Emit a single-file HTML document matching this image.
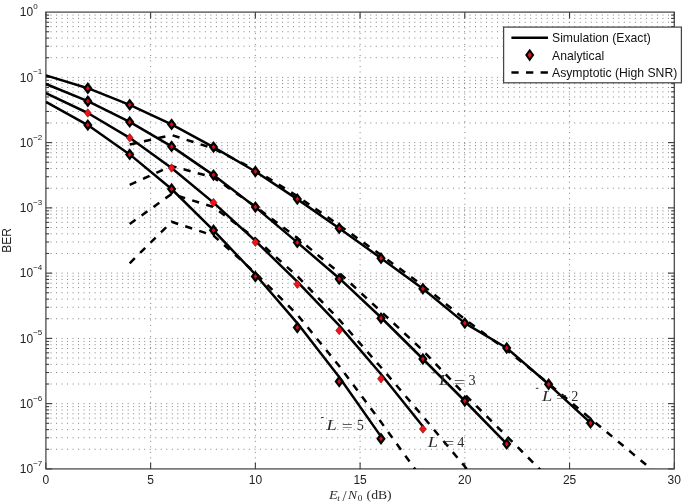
<!DOCTYPE html>
<html><head><meta charset="utf-8"><title>BER plot</title>
<style>html,body{margin:0;padding:0;background:#fff;}body{width:685px;height:504px;overflow:hidden;}svg{display:block;}</style>
</head><body>
<svg width="685" height="504" viewBox="0 0 685 504">
<rect x="0" y="0" width="685" height="504" fill="#fff"/>
<g stroke="#808080" stroke-width="1" fill="none" stroke-dasharray="1 4.513">
<line x1="150.63" y1="469.4" x2="150.63" y2="12.1"/>
<line x1="255.37" y1="469.4" x2="255.37" y2="12.1"/>
<line x1="360.10" y1="469.4" x2="360.10" y2="12.1"/>
<line x1="464.83" y1="469.4" x2="464.83" y2="12.1"/>
<line x1="569.57" y1="469.4" x2="569.57" y2="12.1"/>
</g>
<g stroke="#808080" stroke-width="1" fill="none" stroke-dasharray="1 4.513" stroke-dashoffset="0.9">
<line x1="45.9" y1="77.36" x2="674.3" y2="77.36"/>
<line x1="45.9" y1="57.71" x2="674.3" y2="57.71"/>
<line x1="45.9" y1="46.22" x2="674.3" y2="46.22"/>
<line x1="45.9" y1="38.07" x2="674.3" y2="38.07"/>
<line x1="45.9" y1="31.74" x2="674.3" y2="31.74"/>
<line x1="45.9" y1="26.58" x2="674.3" y2="26.58"/>
<line x1="45.9" y1="22.21" x2="674.3" y2="22.21"/>
<line x1="45.9" y1="18.42" x2="674.3" y2="18.42"/>
<line x1="45.9" y1="15.09" x2="674.3" y2="15.09"/>
<line x1="45.9" y1="142.61" x2="674.3" y2="142.61"/>
<line x1="45.9" y1="122.97" x2="674.3" y2="122.97"/>
<line x1="45.9" y1="111.48" x2="674.3" y2="111.48"/>
<line x1="45.9" y1="103.33" x2="674.3" y2="103.33"/>
<line x1="45.9" y1="97.00" x2="674.3" y2="97.00"/>
<line x1="45.9" y1="91.83" x2="674.3" y2="91.83"/>
<line x1="45.9" y1="87.47" x2="674.3" y2="87.47"/>
<line x1="45.9" y1="83.68" x2="674.3" y2="83.68"/>
<line x1="45.9" y1="80.34" x2="674.3" y2="80.34"/>
<line x1="45.9" y1="207.87" x2="674.3" y2="207.87"/>
<line x1="45.9" y1="188.23" x2="674.3" y2="188.23"/>
<line x1="45.9" y1="176.74" x2="674.3" y2="176.74"/>
<line x1="45.9" y1="168.58" x2="674.3" y2="168.58"/>
<line x1="45.9" y1="162.26" x2="674.3" y2="162.26"/>
<line x1="45.9" y1="157.09" x2="674.3" y2="157.09"/>
<line x1="45.9" y1="152.72" x2="674.3" y2="152.72"/>
<line x1="45.9" y1="148.94" x2="674.3" y2="148.94"/>
<line x1="45.9" y1="145.60" x2="674.3" y2="145.60"/>
<line x1="45.9" y1="273.13" x2="674.3" y2="273.13"/>
<line x1="45.9" y1="253.48" x2="674.3" y2="253.48"/>
<line x1="45.9" y1="241.99" x2="674.3" y2="241.99"/>
<line x1="45.9" y1="233.84" x2="674.3" y2="233.84"/>
<line x1="45.9" y1="227.52" x2="674.3" y2="227.52"/>
<line x1="45.9" y1="222.35" x2="674.3" y2="222.35"/>
<line x1="45.9" y1="217.98" x2="674.3" y2="217.98"/>
<line x1="45.9" y1="214.20" x2="674.3" y2="214.20"/>
<line x1="45.9" y1="210.86" x2="674.3" y2="210.86"/>
<line x1="45.9" y1="338.39" x2="674.3" y2="338.39"/>
<line x1="45.9" y1="318.74" x2="674.3" y2="318.74"/>
<line x1="45.9" y1="307.25" x2="674.3" y2="307.25"/>
<line x1="45.9" y1="299.10" x2="674.3" y2="299.10"/>
<line x1="45.9" y1="292.77" x2="674.3" y2="292.77"/>
<line x1="45.9" y1="287.61" x2="674.3" y2="287.61"/>
<line x1="45.9" y1="283.24" x2="674.3" y2="283.24"/>
<line x1="45.9" y1="279.45" x2="674.3" y2="279.45"/>
<line x1="45.9" y1="276.11" x2="674.3" y2="276.11"/>
<line x1="45.9" y1="403.64" x2="674.3" y2="403.64"/>
<line x1="45.9" y1="384.00" x2="674.3" y2="384.00"/>
<line x1="45.9" y1="372.51" x2="674.3" y2="372.51"/>
<line x1="45.9" y1="364.35" x2="674.3" y2="364.35"/>
<line x1="45.9" y1="358.03" x2="674.3" y2="358.03"/>
<line x1="45.9" y1="352.86" x2="674.3" y2="352.86"/>
<line x1="45.9" y1="348.49" x2="674.3" y2="348.49"/>
<line x1="45.9" y1="344.71" x2="674.3" y2="344.71"/>
<line x1="45.9" y1="341.37" x2="674.3" y2="341.37"/>
<line x1="45.9" y1="449.26" x2="674.3" y2="449.26"/>
<line x1="45.9" y1="437.76" x2="674.3" y2="437.76"/>
<line x1="45.9" y1="429.61" x2="674.3" y2="429.61"/>
<line x1="45.9" y1="423.29" x2="674.3" y2="423.29"/>
<line x1="45.9" y1="418.12" x2="674.3" y2="418.12"/>
<line x1="45.9" y1="413.75" x2="674.3" y2="413.75"/>
<line x1="45.9" y1="409.97" x2="674.3" y2="409.97"/>
<line x1="45.9" y1="406.63" x2="674.3" y2="406.63"/>
</g>
<g stroke="#3a3a3a" stroke-width="1.1" fill="none">
<line x1="45.90" y1="468.9" x2="45.90" y2="462.6"/>
<line x1="45.90" y1="12.1" x2="45.90" y2="18.4"/>
<line x1="150.63" y1="468.9" x2="150.63" y2="462.6"/>
<line x1="150.63" y1="12.1" x2="150.63" y2="18.4"/>
<line x1="255.37" y1="468.9" x2="255.37" y2="462.6"/>
<line x1="255.37" y1="12.1" x2="255.37" y2="18.4"/>
<line x1="360.10" y1="468.9" x2="360.10" y2="462.6"/>
<line x1="360.10" y1="12.1" x2="360.10" y2="18.4"/>
<line x1="464.83" y1="468.9" x2="464.83" y2="462.6"/>
<line x1="464.83" y1="12.1" x2="464.83" y2="18.4"/>
<line x1="569.57" y1="468.9" x2="569.57" y2="462.6"/>
<line x1="569.57" y1="12.1" x2="569.57" y2="18.4"/>
<line x1="674.30" y1="468.9" x2="674.30" y2="462.6"/>
<line x1="674.30" y1="12.1" x2="674.30" y2="18.4"/>
<line x1="45.9" y1="77.36" x2="52.2" y2="77.36"/>
<line x1="674.3" y1="77.36" x2="668.0" y2="77.36"/>
<line x1="45.9" y1="57.71" x2="49.1" y2="57.71"/>
<line x1="674.3" y1="57.71" x2="671.1" y2="57.71"/>
<line x1="45.9" y1="46.22" x2="49.1" y2="46.22"/>
<line x1="674.3" y1="46.22" x2="671.1" y2="46.22"/>
<line x1="45.9" y1="38.07" x2="49.1" y2="38.07"/>
<line x1="674.3" y1="38.07" x2="671.1" y2="38.07"/>
<line x1="45.9" y1="31.74" x2="49.1" y2="31.74"/>
<line x1="674.3" y1="31.74" x2="671.1" y2="31.74"/>
<line x1="45.9" y1="26.58" x2="49.1" y2="26.58"/>
<line x1="674.3" y1="26.58" x2="671.1" y2="26.58"/>
<line x1="45.9" y1="22.21" x2="49.1" y2="22.21"/>
<line x1="674.3" y1="22.21" x2="671.1" y2="22.21"/>
<line x1="45.9" y1="18.42" x2="49.1" y2="18.42"/>
<line x1="674.3" y1="18.42" x2="671.1" y2="18.42"/>
<line x1="45.9" y1="15.09" x2="49.1" y2="15.09"/>
<line x1="674.3" y1="15.09" x2="671.1" y2="15.09"/>
<line x1="45.9" y1="142.61" x2="52.2" y2="142.61"/>
<line x1="674.3" y1="142.61" x2="668.0" y2="142.61"/>
<line x1="45.9" y1="122.97" x2="49.1" y2="122.97"/>
<line x1="674.3" y1="122.97" x2="671.1" y2="122.97"/>
<line x1="45.9" y1="111.48" x2="49.1" y2="111.48"/>
<line x1="674.3" y1="111.48" x2="671.1" y2="111.48"/>
<line x1="45.9" y1="103.33" x2="49.1" y2="103.33"/>
<line x1="674.3" y1="103.33" x2="671.1" y2="103.33"/>
<line x1="45.9" y1="97.00" x2="49.1" y2="97.00"/>
<line x1="674.3" y1="97.00" x2="671.1" y2="97.00"/>
<line x1="45.9" y1="91.83" x2="49.1" y2="91.83"/>
<line x1="674.3" y1="91.83" x2="671.1" y2="91.83"/>
<line x1="45.9" y1="87.47" x2="49.1" y2="87.47"/>
<line x1="674.3" y1="87.47" x2="671.1" y2="87.47"/>
<line x1="45.9" y1="83.68" x2="49.1" y2="83.68"/>
<line x1="674.3" y1="83.68" x2="671.1" y2="83.68"/>
<line x1="45.9" y1="80.34" x2="49.1" y2="80.34"/>
<line x1="674.3" y1="80.34" x2="671.1" y2="80.34"/>
<line x1="45.9" y1="207.87" x2="52.2" y2="207.87"/>
<line x1="674.3" y1="207.87" x2="668.0" y2="207.87"/>
<line x1="45.9" y1="188.23" x2="49.1" y2="188.23"/>
<line x1="674.3" y1="188.23" x2="671.1" y2="188.23"/>
<line x1="45.9" y1="176.74" x2="49.1" y2="176.74"/>
<line x1="674.3" y1="176.74" x2="671.1" y2="176.74"/>
<line x1="45.9" y1="168.58" x2="49.1" y2="168.58"/>
<line x1="674.3" y1="168.58" x2="671.1" y2="168.58"/>
<line x1="45.9" y1="162.26" x2="49.1" y2="162.26"/>
<line x1="674.3" y1="162.26" x2="671.1" y2="162.26"/>
<line x1="45.9" y1="157.09" x2="49.1" y2="157.09"/>
<line x1="674.3" y1="157.09" x2="671.1" y2="157.09"/>
<line x1="45.9" y1="152.72" x2="49.1" y2="152.72"/>
<line x1="674.3" y1="152.72" x2="671.1" y2="152.72"/>
<line x1="45.9" y1="148.94" x2="49.1" y2="148.94"/>
<line x1="674.3" y1="148.94" x2="671.1" y2="148.94"/>
<line x1="45.9" y1="145.60" x2="49.1" y2="145.60"/>
<line x1="674.3" y1="145.60" x2="671.1" y2="145.60"/>
<line x1="45.9" y1="273.13" x2="52.2" y2="273.13"/>
<line x1="674.3" y1="273.13" x2="668.0" y2="273.13"/>
<line x1="45.9" y1="253.48" x2="49.1" y2="253.48"/>
<line x1="674.3" y1="253.48" x2="671.1" y2="253.48"/>
<line x1="45.9" y1="241.99" x2="49.1" y2="241.99"/>
<line x1="674.3" y1="241.99" x2="671.1" y2="241.99"/>
<line x1="45.9" y1="233.84" x2="49.1" y2="233.84"/>
<line x1="674.3" y1="233.84" x2="671.1" y2="233.84"/>
<line x1="45.9" y1="227.52" x2="49.1" y2="227.52"/>
<line x1="674.3" y1="227.52" x2="671.1" y2="227.52"/>
<line x1="45.9" y1="222.35" x2="49.1" y2="222.35"/>
<line x1="674.3" y1="222.35" x2="671.1" y2="222.35"/>
<line x1="45.9" y1="217.98" x2="49.1" y2="217.98"/>
<line x1="674.3" y1="217.98" x2="671.1" y2="217.98"/>
<line x1="45.9" y1="214.20" x2="49.1" y2="214.20"/>
<line x1="674.3" y1="214.20" x2="671.1" y2="214.20"/>
<line x1="45.9" y1="210.86" x2="49.1" y2="210.86"/>
<line x1="674.3" y1="210.86" x2="671.1" y2="210.86"/>
<line x1="45.9" y1="338.39" x2="52.2" y2="338.39"/>
<line x1="674.3" y1="338.39" x2="668.0" y2="338.39"/>
<line x1="45.9" y1="318.74" x2="49.1" y2="318.74"/>
<line x1="674.3" y1="318.74" x2="671.1" y2="318.74"/>
<line x1="45.9" y1="307.25" x2="49.1" y2="307.25"/>
<line x1="674.3" y1="307.25" x2="671.1" y2="307.25"/>
<line x1="45.9" y1="299.10" x2="49.1" y2="299.10"/>
<line x1="674.3" y1="299.10" x2="671.1" y2="299.10"/>
<line x1="45.9" y1="292.77" x2="49.1" y2="292.77"/>
<line x1="674.3" y1="292.77" x2="671.1" y2="292.77"/>
<line x1="45.9" y1="287.61" x2="49.1" y2="287.61"/>
<line x1="674.3" y1="287.61" x2="671.1" y2="287.61"/>
<line x1="45.9" y1="283.24" x2="49.1" y2="283.24"/>
<line x1="674.3" y1="283.24" x2="671.1" y2="283.24"/>
<line x1="45.9" y1="279.45" x2="49.1" y2="279.45"/>
<line x1="674.3" y1="279.45" x2="671.1" y2="279.45"/>
<line x1="45.9" y1="276.11" x2="49.1" y2="276.11"/>
<line x1="674.3" y1="276.11" x2="671.1" y2="276.11"/>
<line x1="45.9" y1="403.64" x2="52.2" y2="403.64"/>
<line x1="674.3" y1="403.64" x2="668.0" y2="403.64"/>
<line x1="45.9" y1="384.00" x2="49.1" y2="384.00"/>
<line x1="674.3" y1="384.00" x2="671.1" y2="384.00"/>
<line x1="45.9" y1="372.51" x2="49.1" y2="372.51"/>
<line x1="674.3" y1="372.51" x2="671.1" y2="372.51"/>
<line x1="45.9" y1="364.35" x2="49.1" y2="364.35"/>
<line x1="674.3" y1="364.35" x2="671.1" y2="364.35"/>
<line x1="45.9" y1="358.03" x2="49.1" y2="358.03"/>
<line x1="674.3" y1="358.03" x2="671.1" y2="358.03"/>
<line x1="45.9" y1="352.86" x2="49.1" y2="352.86"/>
<line x1="674.3" y1="352.86" x2="671.1" y2="352.86"/>
<line x1="45.9" y1="348.49" x2="49.1" y2="348.49"/>
<line x1="674.3" y1="348.49" x2="671.1" y2="348.49"/>
<line x1="45.9" y1="344.71" x2="49.1" y2="344.71"/>
<line x1="674.3" y1="344.71" x2="671.1" y2="344.71"/>
<line x1="45.9" y1="341.37" x2="49.1" y2="341.37"/>
<line x1="674.3" y1="341.37" x2="671.1" y2="341.37"/>
<line x1="45.9" y1="468.90" x2="52.2" y2="468.90"/>
<line x1="674.3" y1="468.90" x2="668.0" y2="468.90"/>
<line x1="45.9" y1="449.26" x2="49.1" y2="449.26"/>
<line x1="674.3" y1="449.26" x2="671.1" y2="449.26"/>
<line x1="45.9" y1="437.76" x2="49.1" y2="437.76"/>
<line x1="674.3" y1="437.76" x2="671.1" y2="437.76"/>
<line x1="45.9" y1="429.61" x2="49.1" y2="429.61"/>
<line x1="674.3" y1="429.61" x2="671.1" y2="429.61"/>
<line x1="45.9" y1="423.29" x2="49.1" y2="423.29"/>
<line x1="674.3" y1="423.29" x2="671.1" y2="423.29"/>
<line x1="45.9" y1="418.12" x2="49.1" y2="418.12"/>
<line x1="674.3" y1="418.12" x2="671.1" y2="418.12"/>
<line x1="45.9" y1="413.75" x2="49.1" y2="413.75"/>
<line x1="674.3" y1="413.75" x2="671.1" y2="413.75"/>
<line x1="45.9" y1="409.97" x2="49.1" y2="409.97"/>
<line x1="674.3" y1="409.97" x2="671.1" y2="409.97"/>
<line x1="45.9" y1="406.63" x2="49.1" y2="406.63"/>
<line x1="674.3" y1="406.63" x2="671.1" y2="406.63"/>
</g>
<rect x="45.9" y="12.1" width="628.4" height="456.8" fill="none" stroke="#454545" stroke-width="1.25"/>
<g font-family="'Liberation Sans', Arial, Helvetica, sans-serif" fill="#222">
<text x="45.9" y="483.6" font-size="12" text-anchor="middle">0</text>
<text x="150.6" y="483.6" font-size="12" text-anchor="middle">5</text>
<text x="255.4" y="483.6" font-size="12" text-anchor="middle">10</text>
<text x="360.1" y="483.6" font-size="12" text-anchor="middle">15</text>
<text x="464.8" y="483.6" font-size="12" text-anchor="middle">20</text>
<text x="569.6" y="483.6" font-size="12" text-anchor="middle">25</text>
<text x="674.3" y="483.6" font-size="12" text-anchor="middle">30</text>
<text x="33.2" y="16.4" font-size="12" text-anchor="end">10</text>
<text x="33.2" y="9.0" font-size="8">0</text>
<text x="33.2" y="81.7" font-size="12" text-anchor="end">10</text>
<text x="33.2" y="74.3" font-size="8">−1</text>
<text x="33.2" y="146.9" font-size="12" text-anchor="end">10</text>
<text x="33.2" y="139.5" font-size="8">−2</text>
<text x="33.2" y="212.2" font-size="12" text-anchor="end">10</text>
<text x="33.2" y="204.8" font-size="8">−3</text>
<text x="33.2" y="277.4" font-size="12" text-anchor="end">10</text>
<text x="33.2" y="270.0" font-size="8">−4</text>
<text x="33.2" y="342.7" font-size="12" text-anchor="end">10</text>
<text x="33.2" y="335.3" font-size="8">−5</text>
<text x="33.2" y="407.9" font-size="12" text-anchor="end">10</text>
<text x="33.2" y="400.5" font-size="8">−6</text>
<text x="33.2" y="473.2" font-size="12" text-anchor="end">10</text>
<text x="33.2" y="465.8" font-size="8">−7</text>
</g>
<text transform="translate(10.9,240.3) rotate(-90)" font-family="'Liberation Sans', Arial, Helvetica, sans-serif" font-size="12" text-anchor="middle" fill="#222">BER</text>
<g font-family="'Liberation Serif', 'Times New Roman', serif" fill="#2a2a2a">
<text transform="translate(329.00,499.10) scale(1.22,1)" font-size="11.8" font-style="italic">E</text>
<text transform="translate(337.20,501.00) scale(1.1,1)" font-size="8.4" font-style="italic">t</text>
<text transform="translate(342.6,501.10) scale(1.25,1.22)" font-size="11.8">/</text>
<text transform="translate(348.10,499.10) scale(1.15,1)" font-size="11.8" font-style="italic">N</text>
<text transform="translate(357.80,500.70) scale(1.1,1)" font-size="8.4">0</text>
<text transform="translate(366.60,499.10) scale(1.16,1)" font-size="11.8">(dB)</text>
</g>
<defs><clipPath id="ax"><rect x="45.9" y="12.1" width="628.4" height="456.8"/></clipPath></defs>
<g clip-path="url(#ax)" fill="none" stroke="#000" stroke-linejoin="round">
<polyline points="45.90,75.40 87.79,88.20 129.69,104.80 171.58,124.40 213.47,147.10 255.37,171.50 297.26,199.10 339.15,228.20 381.05,258.20 422.94,288.70 464.83,323.10 506.73,348.00 548.62,384.30 590.51,422.90" stroke-width="2.5"/>
<polyline points="45.90,84.00 87.79,101.20 129.69,121.90 171.58,146.40 213.47,175.10 255.37,207.10 297.26,242.40 339.15,278.20 381.05,317.50 422.94,359.00 464.83,401.00 506.73,443.90" stroke-width="2.5"/>
<polyline points="45.90,93.20 87.79,113.00 129.69,137.80 171.58,168.00 213.47,202.60 255.37,240.80 297.26,281.70 339.15,325.40 381.05,374.30 422.94,426.50" stroke-width="2.5"/>
<polyline points="45.90,101.80 87.79,125.10 129.69,154.40 171.58,189.00 213.47,230.30 255.37,274.50 297.26,323.10 339.15,377.00 381.05,436.60" stroke-width="2.5"/>
<polyline points="129.7,144.5 171.6,135.0 213.5,148.5 255.4,170.0 297.3,196.2 339.2,225.2 381.0,255.0 422.9,285.5 464.8,319.2 506.7,350.0 548.6,383.5 590.5,418.6 632.4,453.4 674.3,488.2" stroke-width="2.5" stroke-dasharray="7.2 7.486" stroke-linejoin="miter"/>
<polyline points="129.7,184.9 171.6,166.0 213.5,177.5 255.4,206.5 297.3,238.0 339.2,272.8 381.0,311.5 422.9,350.5 464.8,394.5 506.7,436.2 548.6,478.0" stroke-width="2.5" stroke-dasharray="7.2 7.414" stroke-linejoin="miter"/>
<polyline points="129.7,224.0 171.6,193.9 213.5,207.0 255.4,238.5 297.3,276.2 339.2,319.6 381.0,367.3 422.9,416.4 464.8,466.5 506.7,517.0" stroke-width="2.5" stroke-dasharray="7.2 7.440" stroke-linejoin="miter"/>
<polyline points="129.7,263.3 171.6,221.8 213.5,235.5 255.4,273.0 297.3,314.6 339.2,366.0 381.0,422.1 422.9,480.0" stroke-width="2.5" stroke-dasharray="7.2 7.470" stroke-linejoin="miter"/>
</g>
<g>
<path d="M87.8,82.0 L92.5,88.2 L87.8,94.4 L83.1,88.2 Z" fill="#000"/>
<path d="M87.8,85.7 L89.7,88.2 L87.8,90.7 L85.9,88.2 Z" fill="#d41018"/>
<path d="M129.7,98.6 L134.4,104.8 L129.7,111.0 L125.0,104.8 Z" fill="#000"/>
<path d="M129.7,102.3 L131.6,104.8 L129.7,107.3 L127.8,104.8 Z" fill="#d41018"/>
<path d="M171.6,118.2 L176.3,124.4 L171.6,130.6 L166.9,124.4 Z" fill="#000"/>
<path d="M171.6,121.9 L173.5,124.4 L171.6,126.9 L169.7,124.4 Z" fill="#d41018"/>
<path d="M213.5,140.9 L218.2,147.1 L213.5,153.3 L208.8,147.1 Z" fill="#000"/>
<path d="M213.5,144.6 L215.4,147.1 L213.5,149.6 L211.6,147.1 Z" fill="#d41018"/>
<path d="M255.4,165.3 L260.1,171.5 L255.4,177.7 L250.7,171.5 Z" fill="#000"/>
<path d="M255.4,169.0 L257.3,171.5 L255.4,174.0 L253.5,171.5 Z" fill="#d41018"/>
<path d="M297.3,192.9 L302.0,199.1 L297.3,205.3 L292.6,199.1 Z" fill="#000"/>
<path d="M297.3,196.6 L299.2,199.1 L297.3,201.6 L295.4,199.1 Z" fill="#d41018"/>
<path d="M339.2,222.0 L343.9,228.2 L339.2,234.4 L334.5,228.2 Z" fill="#000"/>
<path d="M339.2,225.7 L341.1,228.2 L339.2,230.7 L337.3,228.2 Z" fill="#d41018"/>
<path d="M381.0,252.0 L385.7,258.2 L381.0,264.4 L376.3,258.2 Z" fill="#000"/>
<path d="M381.0,255.7 L382.9,258.2 L381.0,260.7 L379.1,258.2 Z" fill="#d41018"/>
<path d="M422.9,282.5 L427.6,288.7 L422.9,294.9 L418.2,288.7 Z" fill="#000"/>
<path d="M422.9,286.2 L424.8,288.7 L422.9,291.2 L421.0,288.7 Z" fill="#d41018"/>
<path d="M464.8,316.9 L469.5,323.1 L464.8,329.3 L460.1,323.1 Z" fill="#000"/>
<path d="M464.8,320.6 L466.7,323.1 L464.8,325.6 L462.9,323.1 Z" fill="#d41018"/>
<path d="M506.7,341.8 L511.4,348.0 L506.7,354.2 L502.0,348.0 Z" fill="#000"/>
<path d="M506.7,345.5 L508.6,348.0 L506.7,350.5 L504.8,348.0 Z" fill="#d41018"/>
<path d="M548.6,378.1 L553.3,384.3 L548.6,390.5 L543.9,384.3 Z" fill="#000"/>
<path d="M548.6,381.8 L550.5,384.3 L548.6,386.8 L546.7,384.3 Z" fill="#d41018"/>
<path d="M590.5,416.7 L595.2,422.9 L590.5,429.1 L585.8,422.9 Z" fill="#000"/>
<path d="M590.5,420.4 L592.4,422.9 L590.5,425.4 L588.6,422.9 Z" fill="#d41018"/>
<path d="M87.8,95.0 L92.5,101.2 L87.8,107.4 L83.1,101.2 Z" fill="#000"/>
<path d="M87.8,98.7 L89.7,101.2 L87.8,103.7 L85.9,101.2 Z" fill="#d41018"/>
<path d="M129.7,115.7 L134.4,121.9 L129.7,128.1 L125.0,121.9 Z" fill="#000"/>
<path d="M129.7,119.4 L131.6,121.9 L129.7,124.4 L127.8,121.9 Z" fill="#d41018"/>
<path d="M171.6,140.2 L176.3,146.4 L171.6,152.6 L166.9,146.4 Z" fill="#000"/>
<path d="M171.6,143.9 L173.5,146.4 L171.6,148.9 L169.7,146.4 Z" fill="#d41018"/>
<path d="M213.5,168.9 L218.2,175.1 L213.5,181.3 L208.8,175.1 Z" fill="#000"/>
<path d="M213.5,172.6 L215.4,175.1 L213.5,177.6 L211.6,175.1 Z" fill="#d41018"/>
<path d="M255.4,200.9 L260.1,207.1 L255.4,213.3 L250.7,207.1 Z" fill="#000"/>
<path d="M255.4,204.6 L257.3,207.1 L255.4,209.6 L253.5,207.1 Z" fill="#d41018"/>
<path d="M297.3,236.2 L302.0,242.4 L297.3,248.6 L292.6,242.4 Z" fill="#000"/>
<path d="M297.3,239.9 L299.2,242.4 L297.3,244.9 L295.4,242.4 Z" fill="#d41018"/>
<path d="M339.2,272.8 L343.9,279.0 L339.2,285.2 L334.5,279.0 Z" fill="#000"/>
<path d="M339.2,276.5 L341.1,279.0 L339.2,281.5 L337.3,279.0 Z" fill="#d41018"/>
<path d="M381.0,312.1 L385.7,318.3 L381.0,324.5 L376.3,318.3 Z" fill="#000"/>
<path d="M381.0,315.8 L382.9,318.3 L381.0,320.8 L379.1,318.3 Z" fill="#d41018"/>
<path d="M422.9,352.8 L427.6,359.0 L422.9,365.2 L418.2,359.0 Z" fill="#000"/>
<path d="M422.9,356.5 L424.8,359.0 L422.9,361.5 L421.0,359.0 Z" fill="#d41018"/>
<path d="M464.8,394.8 L469.5,401.0 L464.8,407.2 L460.1,401.0 Z" fill="#000"/>
<path d="M464.8,398.5 L466.7,401.0 L464.8,403.5 L462.9,401.0 Z" fill="#d41018"/>
<path d="M506.7,437.7 L511.4,443.9 L506.7,450.1 L502.0,443.9 Z" fill="#000"/>
<path d="M506.7,441.4 L508.6,443.9 L506.7,446.4 L504.8,443.9 Z" fill="#d41018"/>
<path d="M87.8,108.7 L91.3,113.0 L87.8,117.3 L84.3,113.0 Z" fill="#ee1219" stroke="#500" stroke-width="0.5"/>
<path d="M129.7,133.5 L133.2,137.8 L129.7,142.1 L126.2,137.8 Z" fill="#ee1219" stroke="#500" stroke-width="0.5"/>
<path d="M171.6,163.7 L175.1,168.0 L171.6,172.3 L168.1,168.0 Z" fill="#ee1219" stroke="#500" stroke-width="0.5"/>
<path d="M213.5,198.3 L217.0,202.6 L213.5,206.9 L210.0,202.6 Z" fill="#ee1219" stroke="#500" stroke-width="0.5"/>
<path d="M255.4,237.9 L258.9,242.2 L255.4,246.5 L251.9,242.2 Z" fill="#ee1219" stroke="#500" stroke-width="0.5"/>
<path d="M297.3,279.9 L300.8,284.2 L297.3,288.5 L293.8,284.2 Z" fill="#ee1219" stroke="#500" stroke-width="0.5"/>
<path d="M339.2,326.2 L342.7,330.5 L339.2,334.8 L335.7,330.5 Z" fill="#ee1219" stroke="#500" stroke-width="0.5"/>
<path d="M381.0,374.4 L384.5,378.7 L381.0,383.0 L377.5,378.7 Z" fill="#ee1219" stroke="#500" stroke-width="0.5"/>
<path d="M422.9,424.7 L426.4,429.0 L422.9,433.3 L419.4,429.0 Z" fill="#ee1219" stroke="#500" stroke-width="0.5"/>
<path d="M87.8,118.9 L92.5,125.1 L87.8,131.3 L83.1,125.1 Z" fill="#000"/>
<path d="M87.8,122.6 L89.7,125.1 L87.8,127.6 L85.9,125.1 Z" fill="#d41018"/>
<path d="M129.7,148.2 L134.4,154.4 L129.7,160.6 L125.0,154.4 Z" fill="#000"/>
<path d="M129.7,151.9 L131.6,154.4 L129.7,156.9 L127.8,154.4 Z" fill="#d41018"/>
<path d="M171.6,182.8 L176.3,189.0 L171.6,195.2 L166.9,189.0 Z" fill="#000"/>
<path d="M171.6,186.5 L173.5,189.0 L171.6,191.5 L169.7,189.0 Z" fill="#d41018"/>
<path d="M213.5,224.1 L218.2,230.3 L213.5,236.5 L208.8,230.3 Z" fill="#000"/>
<path d="M213.5,227.8 L215.4,230.3 L213.5,232.8 L211.6,230.3 Z" fill="#d41018"/>
<path d="M255.4,270.4 L260.1,276.6 L255.4,282.8 L250.7,276.6 Z" fill="#000"/>
<path d="M255.4,274.1 L257.3,276.6 L255.4,279.1 L253.5,276.6 Z" fill="#d41018"/>
<path d="M297.3,321.3 L302.0,327.5 L297.3,333.7 L292.6,327.5 Z" fill="#000"/>
<path d="M297.3,325.0 L299.2,327.5 L297.3,330.0 L295.4,327.5 Z" fill="#d41018"/>
<path d="M339.2,375.3 L343.9,381.5 L339.2,387.7 L334.5,381.5 Z" fill="#000"/>
<path d="M339.2,379.0 L341.1,381.5 L339.2,384.0 L337.3,381.5 Z" fill="#d41018"/>
<path d="M381.0,432.6 L385.7,438.8 L381.0,445.0 L376.3,438.8 Z" fill="#000"/>
<path d="M381.0,436.3 L382.9,438.8 L381.0,441.3 L379.1,438.8 Z" fill="#d41018"/>
</g>
<g font-family="'Liberation Serif', 'Times New Roman', serif" fill="#2a2a2a"><text transform="translate(541.90,400.70) scale(1.3,1)" font-size="14.2" font-style="italic">L</text><text transform="translate(561.50,402.00) scale(1.38,1)" x="0" y="0" font-size="14.2" text-anchor="middle">=</text><text x="574.90" y="400.70" font-size="14.2" text-anchor="middle">2</text></g>
<g font-family="'Liberation Serif', 'Times New Roman', serif" fill="#2a2a2a"><text transform="translate(439.00,385.20) scale(1.3,1)" font-size="14.2" font-style="italic">L</text><text transform="translate(459.30,386.50) scale(1.38,1)" x="0" y="0" font-size="14.2" text-anchor="middle">=</text><text x="472.00" y="385.20" font-size="14.2" text-anchor="middle">3</text></g>
<g font-family="'Liberation Serif', 'Times New Roman', serif" fill="#2a2a2a"><text transform="translate(427.80,446.80) scale(1.3,1)" font-size="14.2" font-style="italic">L</text><text transform="translate(448.80,448.10) scale(1.38,1)" x="0" y="0" font-size="14.2" text-anchor="middle">=</text><text x="460.80" y="446.80" font-size="14.2" text-anchor="middle">4</text></g>
<g font-family="'Liberation Serif', 'Times New Roman', serif" fill="#2a2a2a"><text transform="translate(326.50,430.00) scale(1.3,1)" font-size="14.2" font-style="italic">L</text><text transform="translate(347.20,431.30) scale(1.38,1)" x="0" y="0" font-size="14.2" text-anchor="middle">=</text><text x="360.20" y="430.00" font-size="14.2" text-anchor="middle">5</text></g>
<line x1="535.8" y1="388.3" x2="538.4" y2="388.3" stroke="#333" stroke-width="1"/>
<line x1="432.3" y1="372.8" x2="434.9" y2="372.8" stroke="#333" stroke-width="1"/>
<line x1="321.1" y1="417.5" x2="323.7" y2="417.5" stroke="#333" stroke-width="1"/>
<rect x="503.6" y="27.1" width="177.8" height="55.7" fill="#fff" stroke="#454545" stroke-width="1.25"/>
<line x1="511.4" y1="37.8" x2="548" y2="37.8" stroke="#000" stroke-width="2.5"/>
<line x1="511.4" y1="72.4" x2="548" y2="72.4" stroke="#000" stroke-width="2.5" stroke-dasharray="7.3 7.3"/>
<path d="M529.7,48.8 L534.3,55.1 L529.7,61.4 L525.1,55.1 Z" fill="#000"/>
<path d="M529.7,52.1 L531.9,55.1 L529.7,58.1 L527.5,55.1 Z" fill="#e0141c"/>
<g font-family="'Liberation Sans', Arial, Helvetica, sans-serif" font-size="12.2" fill="#111">
<text x="552" y="42.3">Simulation (Exact)</text>
<text x="552" y="59.5">Analytical</text>
<text x="552" y="76.6">Asymptotic (High SNR)</text>
</g>
</svg>
</body></html>
